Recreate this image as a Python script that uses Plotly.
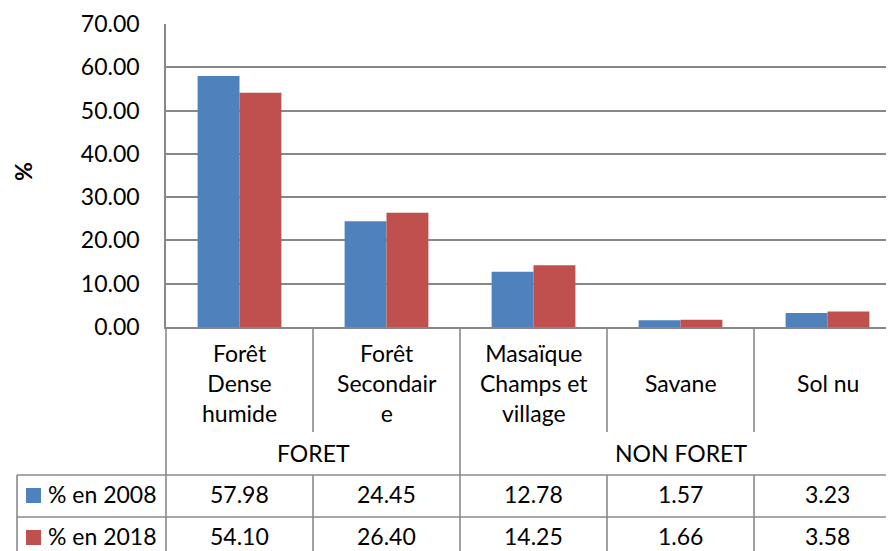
import plotly.graph_objects as go

categories = ["Forêt<br>Dense<br>humide", "Forêt<br>Secondair<br>e", "Masaïque<br>Champs et<br>village", "Savane", "Sol nu"]
groups = ["FORET", "NON FORET"]
group_spans = [(0, 1), (2, 4)]
series_names = ["% en 2008", "% en 2018"]
values_2008 = [57.98, 24.45, 12.78, 1.57, 3.23]
values_2018 = [54.10, 26.40, 14.25, 1.66, 3.58]
colors = ["#4F81BD", "#C0504D"]

OFF = 8  # page body margin
W, H = 894 - OFF, 551 - OFF
L, R, T, B = 166 - OFF, 0, 24 - OFF, 551 - 327
plot_w = W - L - R
plot_h = H - T - B
cat_w = 147.0
xmin = -0.5
xmax = xmin + plot_w / cat_w

FONT = "Lato, Carlito, Calibri, sans-serif"
FS = 23
GRID = "#878787"
LINEC = "#8a8a8a"
LW = 1.6

def px_x(px):
    return (px - OFF - L) / plot_w

def px_y(py):
    return (H - B - (py - OFF)) / plot_h

def dx(xd):
    return (xd - xmin) / (xmax - xmin)

fig = go.Figure()
for name, vals, col in zip(series_names, [values_2008, values_2018], colors):
    fig.add_trace(go.Bar(x=list(range(len(categories))), y=vals, name=name,
                         marker=dict(color=col, line=dict(width=0)), showlegend=False))

shapes = []
def line(x0, y0, x1, y1):
    shapes.append(dict(type="line", xref="paper", yref="paper", x0=x0, y0=y0, x1=x1, y1=y1,
                       line=dict(color=LINEC, width=LW)))

n = len(categories)
bottom = px_y(570)
row_cat_bot = px_y(432)
row1_top = px_y(475)
row2_top = px_y(517)
row3_top = px_y(559)
right = 1.0
line(0, 0, 0, bottom)
for i in range(n - 1):
    xb = dx(i + 0.5)
    if i == 1:
        line(xb, 0, xb, bottom)
    else:
        line(xb, 0, xb, row_cat_bot)
        line(xb, row1_top, xb, bottom)
for yy in [row1_top, row2_top, row3_top]:
    line(px_x(17), yy, right, yy)
line(px_x(17), row1_top, px_x(17), bottom)

annotations = []
font = dict(family=FONT, size=FS, color="#000000")
for i, c in enumerate(categories):
    annotations.append(dict(x=dx(i), y=px_y(383), xref="paper", yref="paper", text=c,
                            showarrow=False, xanchor="center", yanchor="middle", font=font))
for g, (a, b) in zip(groups, group_spans):
    annotations.append(dict(x=dx((a + b) / 2), y=px_y(453), xref="paper", yref="paper", text=g,
                            showarrow=False, xanchor="center", yanchor="middle", font=font))
row_centers = [494, 536]
for r, (name, vals, col) in enumerate(zip(series_names, [values_2008, values_2018], colors)):
    yc = px_y(row_centers[r])
    for i, v in enumerate(vals):
        annotations.append(dict(x=dx(i), y=yc, xref="paper", yref="paper", text=f"{v:.2f}",
                                showarrow=False, xanchor="center", yanchor="middle", font=font))
    shapes.append(dict(type="rect", xref="paper", yref="paper",
                       x0=px_x(26), x1=px_x(41), y0=px_y(row_centers[r] + 9), y1=px_y(row_centers[r] - 6),
                       fillcolor=col, line=dict(width=0)))
    annotations.append(dict(x=px_x(46), y=yc, xref="paper", yref="paper", text=name,
                            showarrow=False, xanchor="left", yanchor="middle", font=font))

annotations.append(dict(x=px_x(23), y=px_y(172), xref="paper", yref="paper", text="<b>%</b>",
                        textangle=-90, showarrow=False, xanchor="center", yanchor="middle", font=font))

fig.update_layout(
    width=W, height=H, autosize=False,
    margin=dict(l=L, r=R, t=T, b=B, pad=0),
    paper_bgcolor="white", plot_bgcolor="white",
    barmode="group", bargap=0.43, bargroupgap=0,
    font=font,
    xaxis=dict(range=[xmin, xmax], showticklabels=False, showgrid=False, zeroline=False,
               showline=True, linecolor=GRID, linewidth=LW, ticks=""),
    yaxis=dict(range=[0, 70], dtick=10, tick0=0, tickformat=".2f", showgrid=True, gridcolor=GRID,
               gridwidth=LW, zeroline=False, showline=True, linecolor=GRID, linewidth=LW,
               ticks="", ticklabelstandoff=20, tickfont=font),
    shapes=shapes, annotations=annotations,
)

fig.write_html("out.html")
